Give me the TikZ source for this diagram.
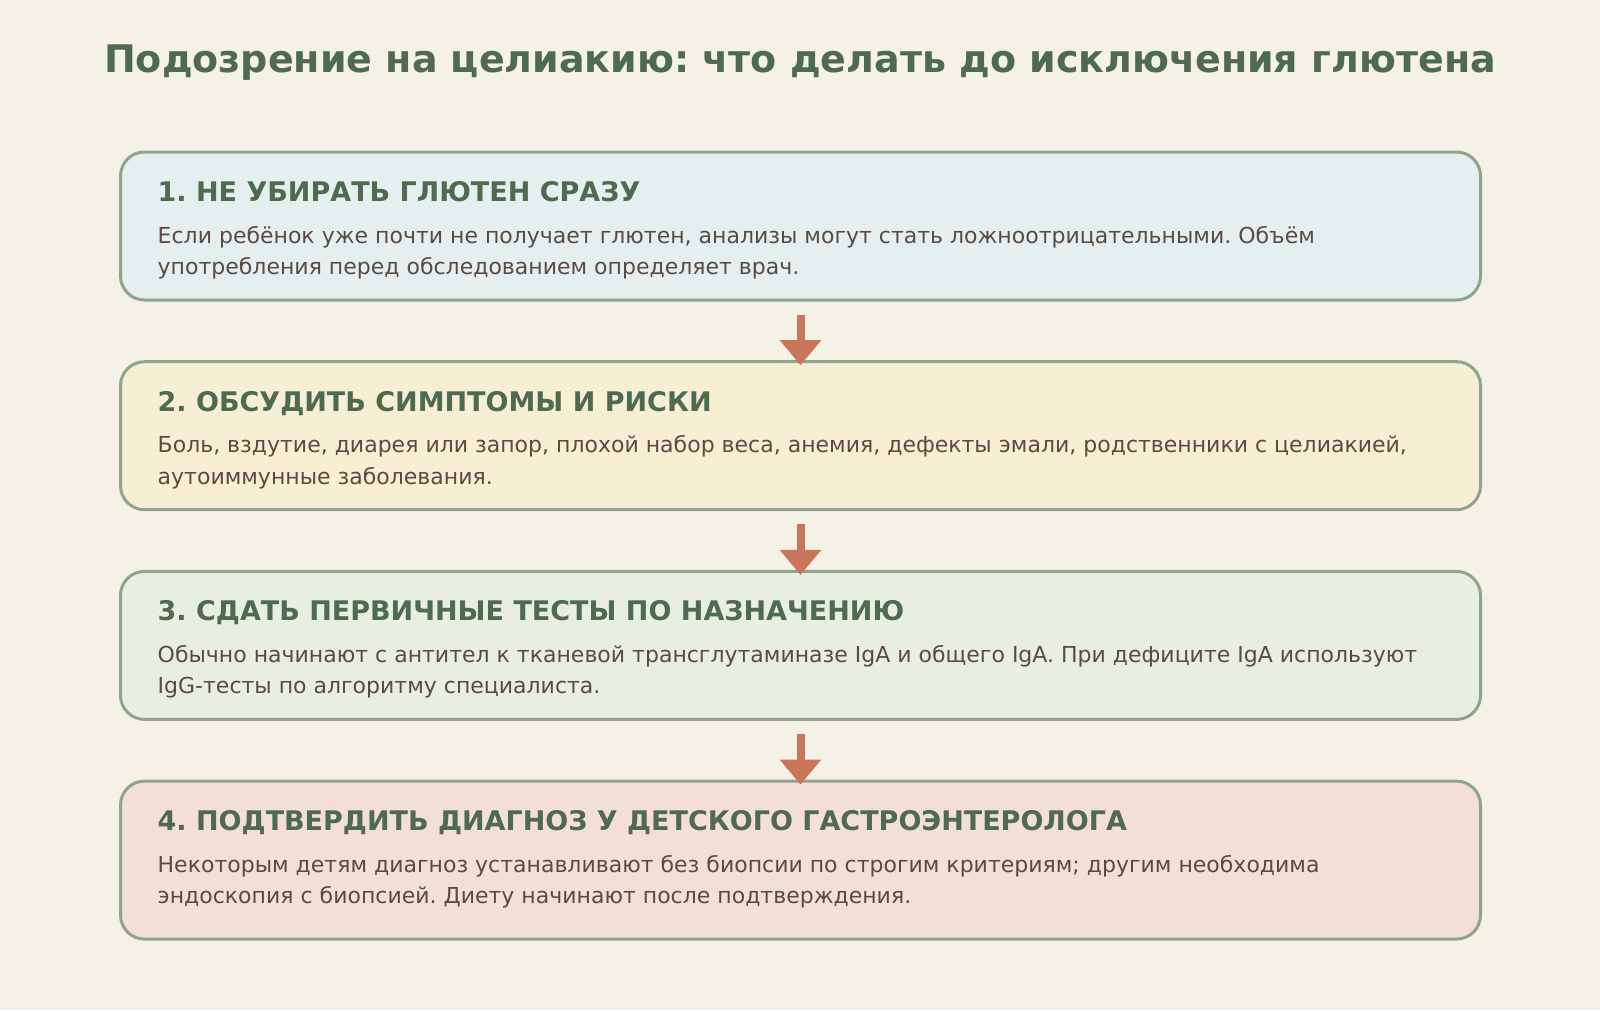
\documentclass[tikz,border=0pt]{standalone}
\usepackage{fontspec}
\setmainfont{DejaVu Sans}
\usetikzlibrary{arrows.meta,positioning}
\definecolor{bgcream}{HTML}{F5F1E6}
\definecolor{titlegreen}{HTML}{4E6A4F}
\definecolor{boxline}{HTML}{8FA58B}
\definecolor{bodybrown}{HTML}{5B4A42}
\definecolor{arrowred}{HTML}{C8755A}
\definecolor{fillblue}{HTML}{E6EFF0}
\definecolor{fillsand}{HTML}{F7EFD4}
\definecolor{fillsage}{HTML}{E9EEE3}
\definecolor{fillrose}{HTML}{F3DFD6}
\begin{document}
\frenchspacing
\begin{tikzpicture}[x=1pt,y=-1pt,
  stepbox/.style={draw=boxline, line width=3pt, rounded corners=24pt, minimum width=1360pt, minimum height=148pt, inner sep=0pt},
  head/.style={anchor=base west, inner sep=0pt, text=titlegreen, font=\fontsize{27}{31}\selectfont\bfseries},
  body/.style={anchor=base west, inner sep=0pt, text=bodybrown, align=left, font=\fontsize{22}{31.5}\selectfont},
  flow/.style={line width=8pt, draw=arrowred, -{Triangle[width=40pt,length=25pt]}, shorten <=13pt, shorten >=-5pt}]
  \fill[bgcream] (0,0) rectangle (1600,1010);
  \useasboundingbox (0,0) rectangle (1600,1010);
  \node[anchor=base, text=titlegreen, font=\fontsize{38}{44}\selectfont\bfseries] (title) at (800,72) {Подозрение на целиакию: что делать до исключения глютена};
  \node[stepbox, fill=fillblue] (s1) at (800.5,226) {};
  \node[stepbox, fill=fillsand, below=58.7pt of s1] (s2) {};
  \node[stepbox, fill=fillsage, below=58.7pt of s2] (s3) {};
  \node[stepbox, fill=fillrose, minimum height=158pt, below=58.7pt of s3] (s4) {};
  \node[head] (h1) at ([shift={(38.5,51)}]s1.north west) {1. НЕ УБИРАТЬ ГЛЮТЕН СРАЗУ};
  \node[body] (t1) at ([shift={(38.5,124)}]s1.north west) {Если ребёнок уже почти не получает глютен, анализы могут стать ложноотрицательными. Объём\\употребления перед обследованием определяет врач.};
  \node[head] (h2) at ([shift={(38.5,51)}]s2.north west) {2. ОБСУДИТЬ СИМПТОМЫ И РИСКИ};
  \node[body] (t2) at ([shift={(38.5,124)}]s2.north west) {Боль, вздутие, диарея или запор, плохой набор веса, анемия, дефекты эмали, родственники с целиакией,\\аутоиммунные заболевания.};
  \node[head] (h3) at ([shift={(38.5,51)}]s3.north west) {3. СДАТЬ ПЕРВИЧНЫЕ ТЕСТЫ ПО НАЗНАЧЕНИЮ};
  \node[body] (t3) at ([shift={(38.5,124)}]s3.north west) {Обычно начинают с антител к тканевой трансглутаминазе IgA и общего IgA. При дефиците IgA используют\\IgG-тесты по алгоритму специалиста.};
  \node[head] (h4) at ([shift={(38.5,51)}]s4.north west) {4. ПОДТВЕРДИТЬ ДИАГНОЗ У ДЕТСКОГО ГАСТРОЭНТЕРОЛОГА};
  \node[body] (t4) at ([shift={(38.5,124)}]s4.north west) {Некоторым детям диагноз устанавливают без биопсии по строгим критериям; другим необходима\\эндоскопия с биопсией. Диету начинают после подтверждения.};
  \foreach \a/\b in {s1/s2,s2/s3,s3/s4}
    \draw[flow] (\a.south) -- (\b.north);
\end{tikzpicture}
\end{document}
